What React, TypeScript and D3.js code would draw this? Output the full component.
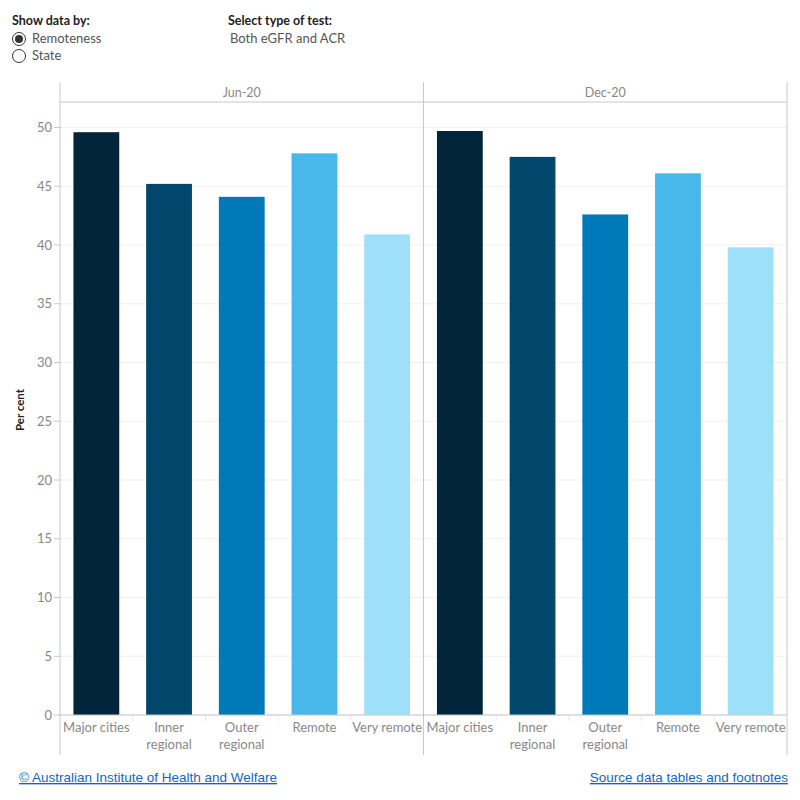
import React from 'react';
import * as d3 from 'd3';

const periods = ['Jun-20', 'Dec-20'];
const categories = ['Major cities', 'Inner regional', 'Outer regional', 'Remote', 'Very remote'];
const catLines: Record<string, string[]> = {
  'Major cities': ['Major cities'],
  'Inner regional': ['Inner', 'regional'],
  'Outer regional': ['Outer', 'regional'],
  'Remote': ['Remote'],
  'Very remote': ['Very remote'],
};
const jun20 = [49.6, 45.2, 44.1, 47.8, 40.9];
const dec20 = [49.7, 47.5, 42.6, 46.1, 39.8];
const seriesValues = [jun20, dec20];
const yTicks = [0, 5, 10, 15, 20, 25, 30, 35, 40, 45, 50];
const colors = ['#01263c', '#01476b', '#0079b9', '#47b8e9', '#9edff9'];

const W = 800;
const H = 800;
const plotLeft = 60;
const plotRight = 787;
const headerTop = 82;
const headerBottom = 102;
const axisBottom = 755;

const font = 'Lato, "Open Sans", sans-serif';

export default function App() {
  const y = d3.scaleLinear().domain([0, 50]).range([715, 127.5]);
  const panel = d3.scaleBand<string>().domain(periods).range([plotLeft, plotRight]);
  const x = d3.scaleBand<string>().domain(categories).range([0, panel.bandwidth()]).paddingInner(0.37).paddingOuter(0.185);
  const step = panel.bandwidth() / categories.length;

  return (
    <div style={{ margin: -8 }}>
      <svg width={W} height={H} style={{ display: 'block', background: '#fff' }}>
        {/* controls */}
        <text x={12} y={25} fontFamily={font} fontSize={12.5} fontWeight="bold" fill="#222">Show data by:</text>
        <circle cx={19} cy={39} r={6.5} fill="#fff" stroke="#333" strokeWidth={1} />
        <circle cx={19} cy={39} r={4} fill="#333" />
        <text x={32} y={43} fontFamily={font} fontSize={13} fill="#555">Remoteness</text>
        <circle cx={19} cy={56} r={6.5} fill="#fff" stroke="#333" strokeWidth={1} />
        <text x={32} y={60} fontFamily={font} fontSize={13} fill="#555">State</text>
        <text x={228} y={25} fontFamily={font} fontSize={12.5} fontWeight="bold" fill="#222">Select type of test:</text>
        <text x={230} y={43} fontFamily={font} fontSize={13} fill="#555">Both eGFR and ACR</text>

        {/* gridlines */}
        {yTicks.map(t => (
          <line key={t} x1={plotLeft} x2={plotRight} y1={y(t)} y2={y(t)} stroke="#efefef" strokeWidth={1} />
        ))}

        {/* header */}
        <line x1={plotLeft} x2={plotRight} y1={headerBottom} y2={headerBottom} stroke="#c8c8c8" />
        {periods.map(p => (
          <text key={p} x={(panel(p) ?? 0) + panel.bandwidth() / 2} y={97} textAnchor="middle"
            fontFamily={font} fontSize={12.5} fill="#888">{p}</text>
        ))}

        {/* bars */}
        {periods.map((p, pi) => (
          <g key={p} transform={`translate(${panel(p)},0)`}>
            {categories.map((c, ci) => (
              <rect key={c} x={x(c)} width={x.bandwidth()} y={y(seriesValues[pi][ci])}
                height={y(0) - y(seriesValues[pi][ci])} fill={colors[ci]} />
            ))}
            {categories.slice(1).map((c, ci) => (
              <line key={c} x1={(ci + 1) * step} x2={(ci + 1) * step} y1={y(0)} y2={y(0) + 6} stroke="#e6e6e6" />
            ))}
            {categories.map(c => (
              <text key={c} x={(x(c) ?? 0) + x.bandwidth() / 2} textAnchor="middle" fontFamily={font} fontSize={13} fill="#888">
                {catLines[c].map((l, li) => (
                  <tspan key={li} x={(x(c) ?? 0) + x.bandwidth() / 2} y={732 + li * 17}>{l}</tspan>
                ))}
              </text>
            ))}
          </g>
        ))}

        {/* panel borders */}
        {[plotLeft, (panel('Dec-20') ?? 0), plotRight].map((xx, i) => (
          <line key={i} x1={xx} x2={xx} y1={headerTop} y2={axisBottom} stroke="#c8c8c8" />
        ))}
        <line x1={plotLeft} x2={plotRight} y1={y(0)} y2={y(0)} stroke="#c8c8c8" />

        {/* y axis */}
        {yTicks.map(t => (
          <g key={t}>
            <line x1={plotLeft - 6} x2={plotLeft} y1={y(t)} y2={y(t)} stroke="#c8c8c8" />
            <text x={plotLeft - 8} y={y(t) + 4.5} textAnchor="end" fontFamily={font} fontSize={13} fill="#888">{t}</text>
          </g>
        ))}
        <text transform="translate(24,410) rotate(-90)" textAnchor="middle" fontFamily={font} fontSize={11.5}
          fontWeight="bold" fill="#222">Per cent</text>

        {/* footer */}
        <text x={19} y={782} fontFamily="Arial, 'Liberation Sans', sans-serif" fontSize={13.5} fill="#1565c0"
          textDecoration="underline">© Australian Institute of Health and Welfare</text>
        <text x={788} y={782} textAnchor="end" fontFamily="Arial, 'Liberation Sans', sans-serif" fontSize={13.5} fill="#1565c0"
          textDecoration="underline">Source data tables and footnotes</text>
      </svg>
    </div>
  );
}
